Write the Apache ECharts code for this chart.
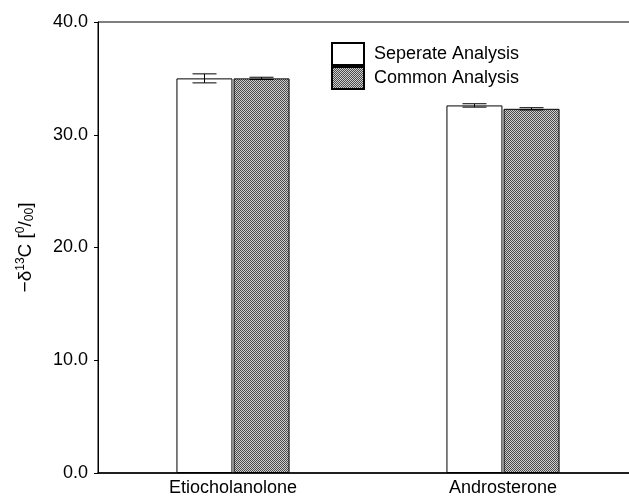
<!doctype html>
<html><head><meta charset="utf-8" />
<style>html,body,#app{margin:0;padding:0;width:629px;height:500px;background:#fff}</style>
</head><body><div id="app"></div>
<script src="https://cdn.jsdelivr.net/npm/echarts@6/dist/echarts.min.js"></script>
<script>
const categories = ['Etiocholanolone', 'Androsterone'];
const seperate = [35.0, 32.6];
const seperateErr = [0.4, 0.15];
const common = [35.0, 32.3];
const commonErr = [0.1, 0.1];
const yTicks = [0, 10, 20, 30, 40];

// stipple pattern for the grey bars
function makePattern(){
  const c = document.createElement('canvas'); c.width = 4; c.height = 4;
  const g = c.getContext('2d');
  g.fillStyle = '#cfcfcf'; g.fillRect(0,0,4,4);
  g.fillStyle = '#4a4a4a';
  [[0,0],[2,0],[1,1],[3,1],[0,2],[2,2],[1,3],[3,3]].forEach(p => g.fillRect(p[0],p[1],1,1));
  return c;
}
const grey = { image: makePattern(), repeat: 'repeat' };

const BAR_W = 56, HALF = 28.5;
function errItem(off){
  return function(params, api){
    const x = api.coord([api.value(0), api.value(1)])[0] + off;
    const lo = api.coord([api.value(0), api.value(1)])[1];
    const hi = api.coord([api.value(0), api.value(2)])[1];
    const w = 12;
    const st = { stroke: '#000', lineWidth: 1 };
    return { type: 'group', children: [
      { type: 'line', shape: { x1: x, y1: lo, x2: x, y2: hi }, style: st },
      { type: 'line', shape: { x1: x - w, y1: lo, x2: x + w, y2: lo }, style: st },
      { type: 'line', shape: { x1: x - w, y1: hi, x2: x + w, y2: hi }, style: st }
    ]};
  };
}

const chart = echarts.init(document.getElementById('app'));
chart.setOption({
  backgroundColor: '#fff',
  animation: false,
  textStyle: { fontFamily: 'Liberation Sans, Arial, sans-serif', color: '#000' },
  grid: { left: 98, top: 22, width: 540, bottom: 27, show: true, borderColor: '#000', borderWidth: 1,
    outerBoundsMode: 'none' },
  legend: {
    orient: 'vertical', left: 331, top: 42, padding: 0, itemWidth: 32, itemHeight: 22, itemGap: 0,
    icon: 'rect', textStyle: { fontSize: 18, lineHeight: 22, color: '#000', padding: [0,0,0,5] },
    data: ['Seperate Analysis', 'Common Analysis']
  },
  xAxis: {
    type: 'category', data: categories,
    axisLine: { lineStyle: { color: '#000', width: 1.5 } },
    axisTick: { show: false },
    axisLabel: { fontSize: 18, color: '#000', margin: 6 }
  },
  yAxis: {
    type: 'value', min: 0, max: 40, interval: 10,
    name: '{m|−δ}{s|13}{m|C [}{s|0}{m|/}{b|00}{m|]}',
    nameLocation: 'middle', nameRotate: 90, nameGap: 62,
    nameTextStyle: { rich: {
      m: { fontSize: 19, color: '#000' },
      s: { fontSize: 12, color: '#000', verticalAlign: 'top', padding: [0,0,9,0] },
      b: { fontSize: 12, color: '#000', verticalAlign: 'bottom', padding: [7,0,0,0] }
    } },
    axisLine: { show: true, lineStyle: { color: '#000' } },
    axisTick: { show: true, length: 4, lineStyle: { color: '#000' } },
    splitLine: { show: false },
    axisLabel: { fontSize: 18, color: '#000', margin: 10, formatter: v => yTicks.includes(v) ? v.toFixed(1) : '' }
  },
  series: [
    { name: 'Seperate Analysis', type: 'bar', data: seperate, barWidth: BAR_W, barGap: '2%',
      itemStyle: { color: '#fff', borderColor: '#000', borderWidth: 1 } },
    { name: 'Common Analysis', type: 'bar', data: common, barWidth: BAR_W,
      itemStyle: { color: grey, borderColor: '#000', borderWidth: 1 } },
    { type: 'custom', renderItem: errItem(-HALF), z: 5,
      data: categories.map((c, i) => [i, seperate[i] - seperateErr[i], seperate[i] + seperateErr[i]]) },
    { type: 'custom', renderItem: errItem(HALF), z: 5,
      data: categories.map((c, i) => [i, common[i] - commonErr[i], common[i] + commonErr[i]]) }
  ]
});
</script></body></html>
